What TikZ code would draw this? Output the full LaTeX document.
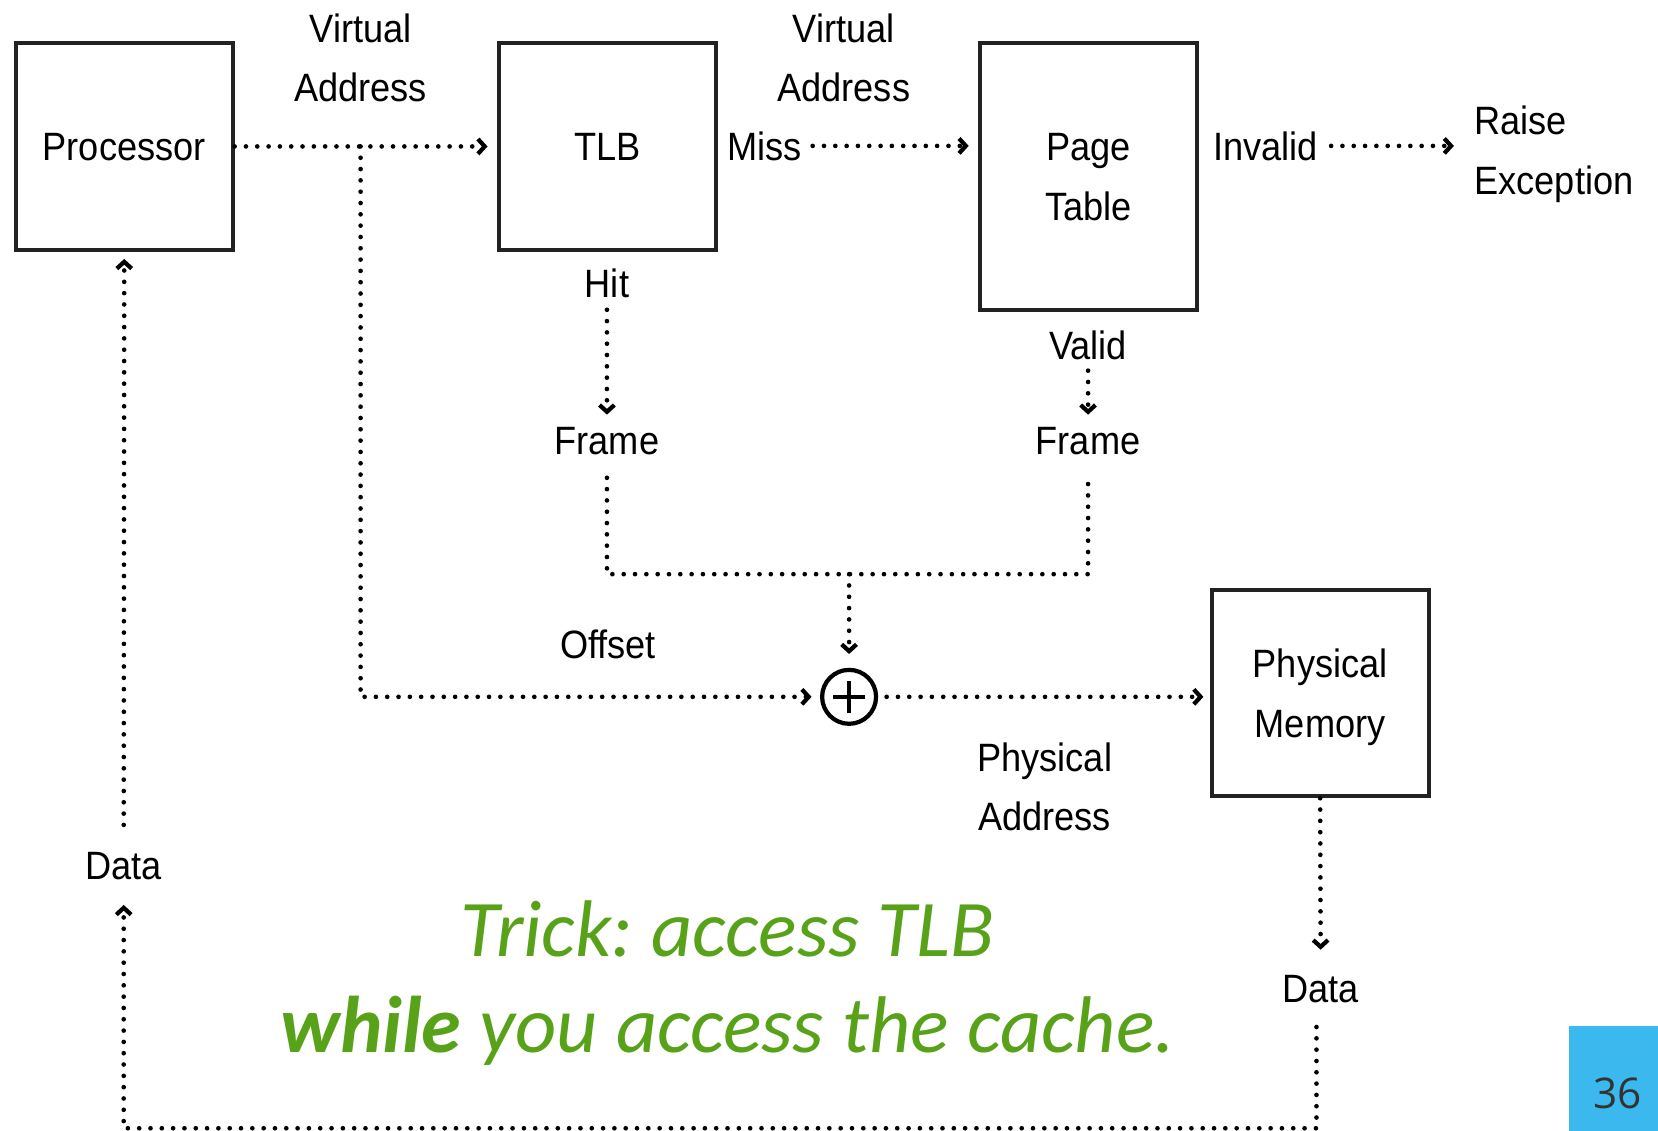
\documentclass[tikz,border=0pt]{standalone}
\usepackage{fontspec}
\setmainfont{Liberation Sans}[FakeStretch=0.915]
\newfontfamily\greenfont{Carlito}
\newfontfamily\numfont{Open Sans}
\usetikzlibrary{arrows.meta}
\frenchspacing
\definecolor{trickgreen}{RGB}{88,162,26}
\definecolor{pageblue}{RGB}{59,185,238}
\definecolor{numgray}{RGB}{51,51,51}
\definecolor{boxline}{RGB}{34,34,34}
\tikzset{
  box/.style={draw=boxline, line width=1.9pt, minimum width=102.5pt, minimum height=97.5pt,
    inner sep=0pt, align=center, text depth=0pt, font=\fontsize{18.7pt}{28.3pt}\selectfont},
  lbl/.style={inner sep=0pt, align=center, text depth=0pt, font=\fontsize{18.7pt}{28.3pt}\selectfont},
  flow/.style={line width=2.2pt, line cap=round, dash pattern=on 0pt off 5.35pt},
  arr/.style={flow, -{Straight Barb[length=3.2pt,width=7pt,line width=2pt]}},
  trick/.style={anchor=base, inner sep=0pt, text=trickgreen,
    font=\greenfont\itshape\fontsize{38pt}{45pt}\selectfont},
}
\begin{document}
\begin{tikzpicture}[x=0.5pt,y=-0.5pt]
\useasboundingbox (0,0) rectangle (1568,1069);
% boxes
\node[box] (proc) at (117.5,138.5) {Processor};
\node[box] (tlb) at (574.5,138.5) {TLB};
\node[box, minimum height=126pt] (ptab) at (1029.5,167) {Page\\Table};
\node[box] (pmem) at (1248.5,655.5) {Physical\\Memory};
% labels
\node[lbl] (va1) at (341,54.5) {Virtual\\Address};
\node[lbl] (va2) at (798,54.5) {Virtual\\Address};
\node[lbl] (miss) at (723,138) {Miss};
\node[lbl] (inval) at (1197,138) {Invalid};
\node[lbl, align=left, anchor=west] (raise) at (1394,142) {Raise\\Exception};
\node[lbl] (hit) at (574,268) {Hit};
\node[lbl] (fr1) at (574,417) {Frame};
\node[lbl] (valid) at (1029,326) {Valid};
\node[lbl] (fr2) at (1029,417) {Frame};
\node[lbl] (offs) at (575,609) {Offset};
\node[lbl] (paddr) at (988,744) {Physical\\Address};
\node[lbl] (data2) at (1249,935) {Data};
\node[lbl] (data1) at (117,819) {Data};
% adder
\node[draw, circle, line width=2pt, minimum size=25.5pt, inner sep=0pt] (plus) at (803,659) {};
\draw[line width=1.6pt] ([xshift=-7.5pt]plus.center) -- ([xshift=7.5pt]plus.center)
  ([yshift=-7.5pt]plus.center) -- ([yshift=7.5pt]plus.center);
% helper points
\coordinate (br) at (341,138.5);
\coordinate (jn) at (803,543);
\coordinate (bot) at (117,1067);
% connectors
\draw[arr, shorten >=4.5pt] (proc.east) -- (tlb.west);
\draw[arr, shorten >=4pt] (br) |- (plus.west);
\draw[arr, shorten <=5pt, shorten >=4.5pt] (miss.east) -- (miss.east -| ptab.west);
\draw[arr, shorten <=6pt, shorten >=9.5pt] (inval.east) -- (inval.east -| raise.west);
\draw[arr, shorten <=5.5pt, shorten >=5.8pt] (hit.south) -- (fr1.north);
\draw[arr, shorten <=5.3pt, shorten >=5.8pt] (valid.south) -- (fr2.north);
\draw[flow, shorten <=10.8pt, shorten >=12.3pt] (fr1.south) |- (jn) -| (fr2.south);
\draw[arr, shorten >=6.5pt] (jn) -- (plus.north);
\draw[arr, shorten <=4pt, shorten >=3pt] (plus.east) -- (plus.east -| pmem.west);
\draw[arr, shorten >=11.8pt] (pmem.south) -- (data2.north);
\draw[arr, shorten <=11.5pt, shorten >=11.8pt] ([xshift=-2pt]data2.south) |- (bot) -- (data1.south);
\draw[arr, shorten <=12.8pt, shorten >=3.5pt] (data1.north) -- (proc.south);
% green remark
\node[trick] (trick1) at (688,905) {Trick: access TLB};
\node[trick] (trick2) at (688,995) {\bfseries while\mdseries{} you access the cache.};
% page number
\node[fill=pageblue, minimum width=42.5pt, minimum height=49.5pt, inner sep=0pt, anchor=north west] (pgbox) at (1483,970) {};
\node[anchor=base, inner sep=0pt, text=numgray, font=\numfont\fontsize{20pt}{20pt}\selectfont] (pgnum) at (1530,1048) {36};
\end{tikzpicture}
\end{document}
